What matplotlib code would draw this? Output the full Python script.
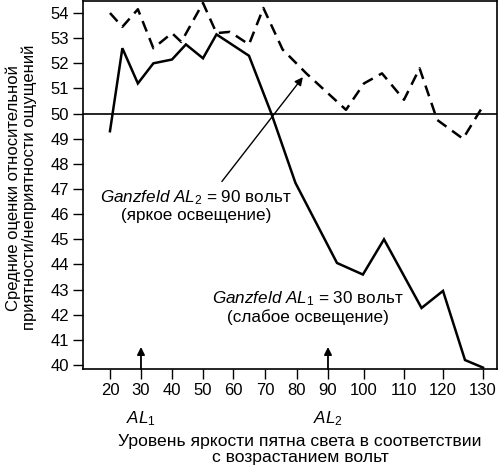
import numpy as np
import matplotlib
matplotlib.use("Agg")
import matplotlib.pyplot as plt

matplotlib.rcParams['font.family'] = ["Liberation Sans", "DejaVu Sans"]
matplotlib.rcParams['font.size'] = 12
matplotlib.rcParams['mathtext.fontset'] = 'custom'
matplotlib.rcParams['mathtext.rm'] = 'Liberation Sans'
matplotlib.rcParams['mathtext.it'] = 'Liberation Sans:italic'

# AL1 = 30 V (weak lighting), solid line
solid_x = [20, 24, 29, 34, 40, 44.5, 50, 54.5, 65, 72, 79.5, 92.5, 99.7, 105, 114.5, 120, 125.5, 130]
solid_y = [49.3, 52.6, 51.2, 52.0, 52.15, 52.75, 52.2, 53.15, 52.3, 50.0, 47.25, 44.06, 43.6, 45.0,
           42.27, 42.95, 40.2, 39.9]

# AL2 = 90 V (bright lighting), dashed line
dashed_x = [20, 24, 29, 34, 40, 43, 50, 54.5, 59, 65, 69.5, 75.5, 83, 95, 100, 104.5, 110, 114,
            118.5, 125, 130]
dashed_y = [54.0, 53.45, 54.15, 52.6, 53.2, 52.85, 54.4, 53.2, 53.25, 52.75, 54.2, 52.55, 51.6,
            50.15, 51.2, 51.6, 50.55, 51.8, 49.75, 49.0, 50.3]

x_ticks = [20, 30, 40, 50, 60, 70, 80, 90, 100, 110, 120, 130]
y_ticks = list(range(40, 55))
adaptation = [30, 90]

# the printed x axis is not evenly spaced past 90, so map it piecewise
knot_vals = [0, 20, 30, 40, 50, 60, 70, 80, 90, 100, 110, 120, 130, 150]
knot_pos = [48, 110, 141, 172, 203, 233, 265, 297, 328, 364, 404, 443, 483, 563]


def fwd(v):
    return np.interp(v, knot_vals, knot_pos)


def inv(p):
    return np.interp(p, knot_pos, knot_vals)


fig = plt.figure(figsize=(5, 4.69), dpi=100)
ax = fig.add_axes([0.166, 0.213, 0.828, 0.785])
ax.set_xscale('function', functions=(fwd, inv))

ax.plot(solid_x, solid_y, color='black', lw=1.8, solid_joinstyle='miter')
ax.plot(dashed_x, dashed_y, color='black', lw=1.8, linestyle=(0, (4.5, 2.8)))
ax.axhline(50, color='black', lw=1.2)

ax.set_xlim(11.3, 133.5)
ax.set_ylim(39.84, 54.48)
ax.set_xticks(x_ticks)
ax.set_xticklabels([str(v) for v in x_ticks])
ax.set_yticks(y_ticks)
ax.set_yticklabels([str(v) for v in y_ticks])
ax.tick_params(direction='out', length=7, width=1, pad=3, labelsize=12)
for s in ax.spines.values():
    s.set_linewidth(1.2)

for v, lab in zip(adaptation, ["1", "2"]):
    ax.annotate('', xy=(v, 40.72), xytext=(v, 39.84),
                arrowprops=dict(arrowstyle='-|>', color='black', lw=1.3,
                                mutation_scale=11, shrinkA=0, shrinkB=0))
    ax.text(v, 37.85, r'$\mathit{AL}_\mathrm{' + lab + '}$', ha='center', va='center',
            fontsize=12.3)

ax.annotate('', xy=(81.9, 51.45), xytext=(56.3, 47.3),
            arrowprops=dict(arrowstyle='-|>', color='black', lw=1.0,
                            mutation_scale=12, shrinkA=0, shrinkB=0))
ax.text(47.7, 46.35, '$\\mathit{Ganzfeld\\ AL}_\\mathrm{2}$ = 90 вольт\n(яркое освещение)',
        ha='center', va='center', multialignment='center', fontsize=12.3, linespacing=1.05)
ax.text(83.5, 42.3, '$\\mathit{Ganzfeld\\ AL}_\\mathrm{1}$ = 30 вольт\n(слабое освещение)',
        ha='center', va='center', multialignment='center', fontsize=12.3, linespacing=1.05)

fig.text(0.6, 0.042, 'Уровень яркости пятна света в соответствии\nс возрастанием вольт',
         ha='center', va='center', fontsize=12.6, linespacing=1.05)
fig.text(0.042, 0.6, 'Средние оценки относительной\nприятности/неприятности ощущений',
         ha='center', va='center', rotation='vertical', fontsize=12, linespacing=1.05)

fig.savefig('out.png', dpi=100)
